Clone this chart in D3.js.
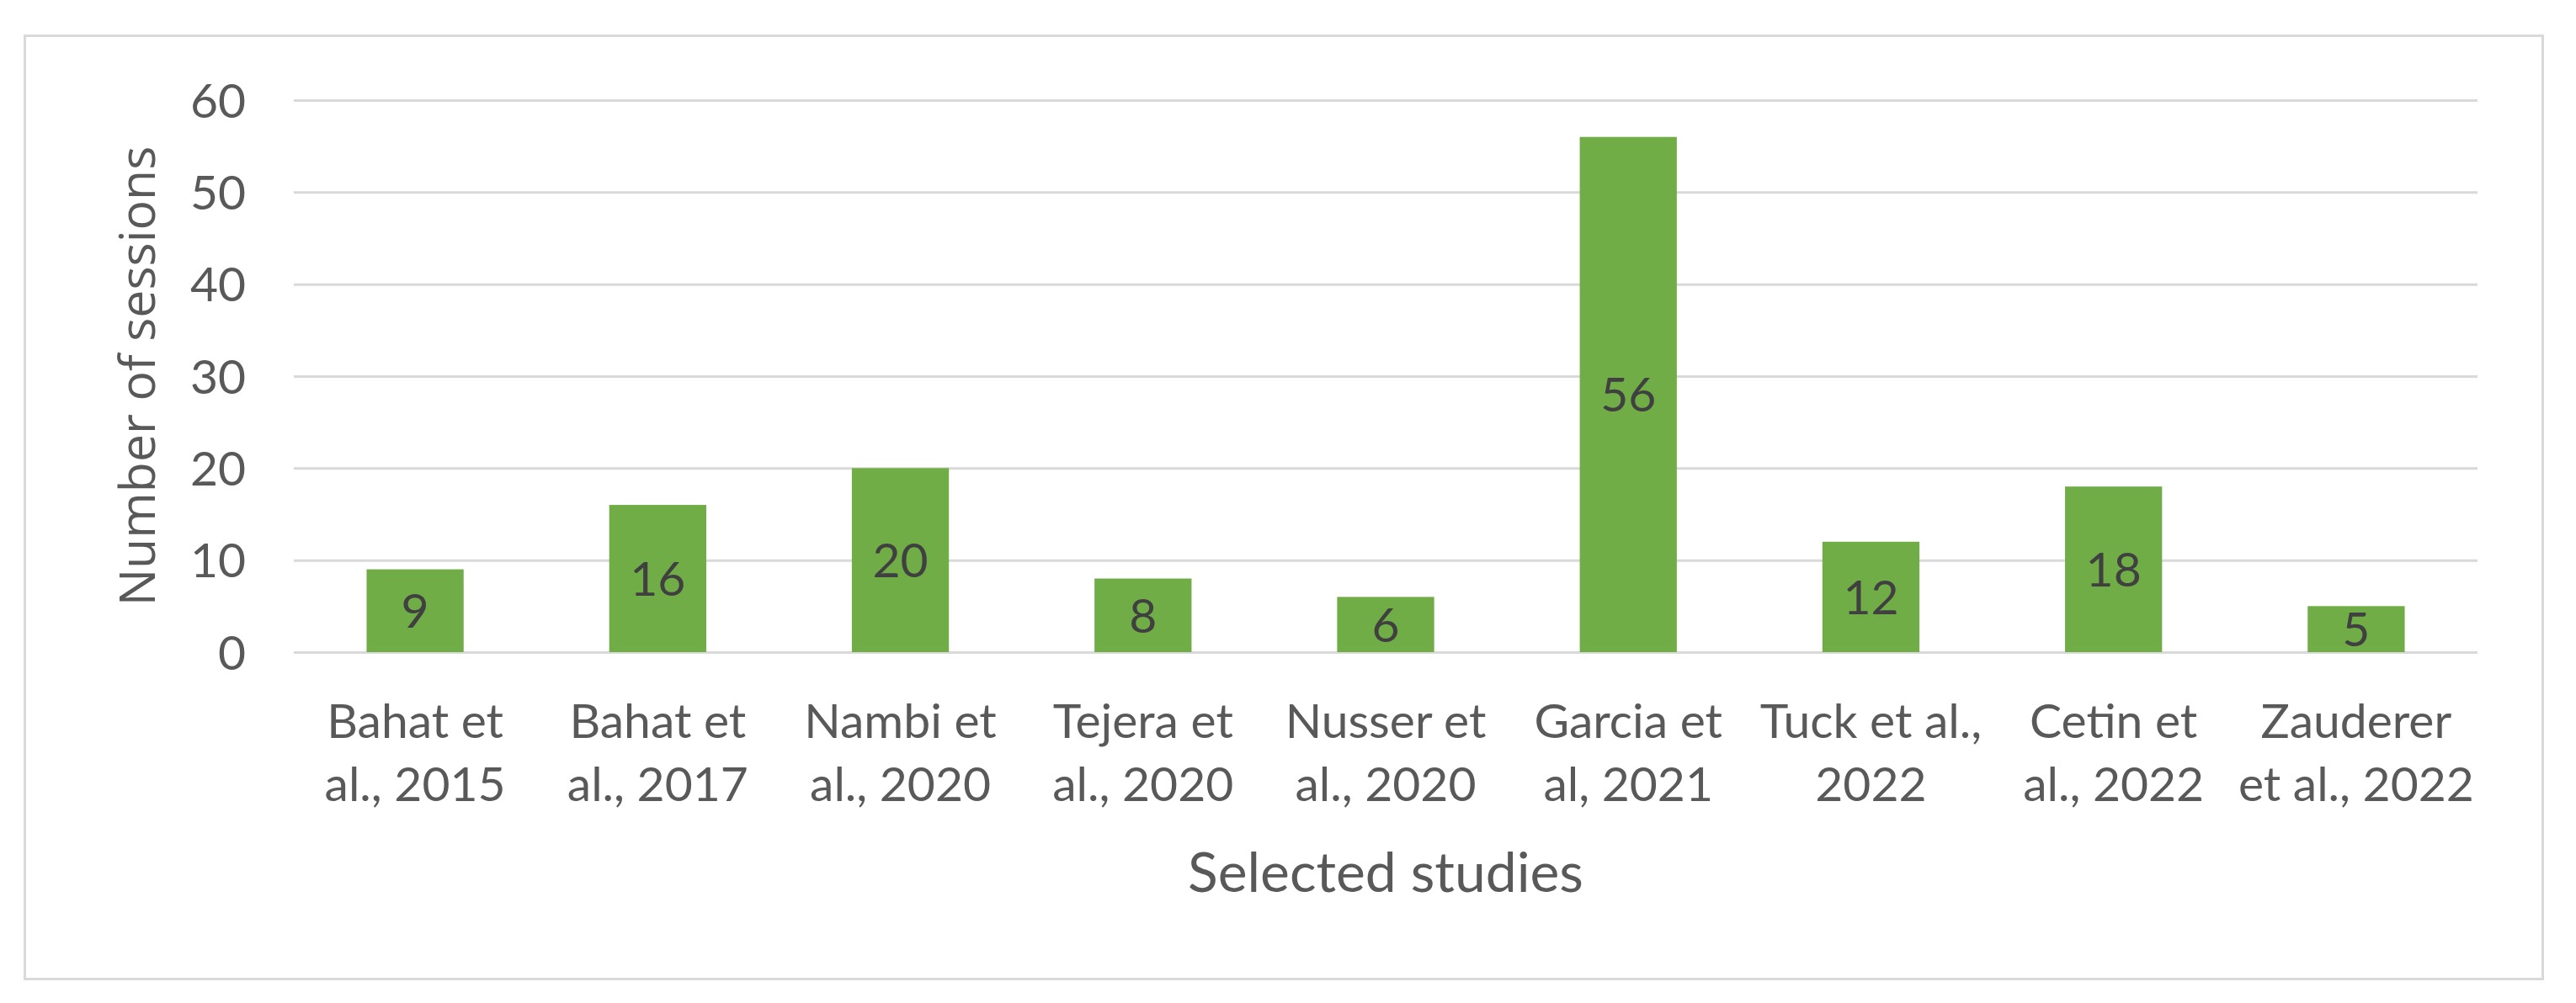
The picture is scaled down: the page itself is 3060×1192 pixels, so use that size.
<!DOCTYPE html>
<html>
<head>
<meta charset="utf-8">
<script src="https://cdn.jsdelivr.net/npm/d3@7"></script>
<style>
  html, body { margin: 0; padding: 0; background: #ffffff; }
  svg { display: block; }
</style>
</head>
<body>
<svg id="chart" width="3060" height="1192"></svg>
<script>
// ---- data ----
const categories = [
  ["Bahat et", "al., 2015"],
  ["Bahat et", "al., 2017"],
  ["Nambi et", "al., 2020"],
  ["Tejera et", "al., 2020"],
  ["Nusser et", "al., 2020"],
  ["Garcia et", "al, 2021"],
  ["Tuck et al.,", "2022"],
  ["Cetin et", "al., 2022"],
  ["Zauderer", "et al., 2022"]
];
const sessions = [9, 16, 20, 8, 6, 56, 12, 18, 5];
const yTicks = [0, 10, 20, 30, 40, 50, 60];
const xTitle = "Selected studies";
const yTitle = "Number of sessions";

// ---- layout ----
const W = 3060, H = 1192;
const plot = { left: 349, right: 2943, top: 119, bottom: 775 };
const fontMain = "Lato, 'Open Sans', sans-serif";

const svg = d3.select("#chart");
svg.append("rect").attr("width", W).attr("height", H).attr("fill", "#ffffff");

// chart frame
svg.append("rect")
  .attr("x", 29.5).attr("y", 42.5)
  .attr("width", 3020 - 29).attr("height", 1163 - 42)
  .attr("fill", "none").attr("stroke", "#d9d9d9").attr("stroke-width", 3);

const keys = categories.map((c, i) => i);
const x = d3.scaleBand().domain(keys).range([plot.left, plot.right])
  .paddingInner(0.6).paddingOuter(0.3);
const y = d3.scaleLinear().domain([0, 60]).range([plot.bottom, plot.top]);

// y axis with gridlines
const yAxis = d3.axisLeft(y).tickValues(yTicks)
  .tickSize(-(plot.right - plot.left)).tickPadding(57);
const gy = svg.append("g").attr("transform", `translate(${plot.left},0)`).call(yAxis);
gy.select(".domain").remove();
gy.selectAll(".tick line").attr("stroke", "#d9d9d9").attr("stroke-width", 3);
gy.selectAll(".tick text")
  .attr("fill", "#595959")
  .attr("font-family", fontMain)
  .attr("font-size", 57)
  .attr("dy", null)
  .attr("y", 20);

// bars
svg.append("g").selectAll("rect").data(sessions).join("rect")
  .attr("x", (d, i) => x(i))
  .attr("y", d => y(d))
  .attr("width", x.bandwidth())
  .attr("height", d => y(0) - y(d))
  .attr("fill", "#70ad47");

// data labels (centered in bars)
svg.append("g").selectAll("text").data(sessions).join("text")
  .attr("x", (d, i) => x(i) + x.bandwidth() / 2)
  .attr("y", d => (y(d) + y(0)) / 2 + 20.5)
  .attr("text-anchor", "middle")
  .attr("font-family", fontMain)
  .attr("font-size", 57)
  .attr("fill", "#404040")
  .text(d => d);

// category labels
const gx = svg.append("g");
categories.forEach((lines, i) => {
  const t = gx.append("text")
    .attr("text-anchor", "middle")
    .attr("font-family", fontMain)
    .attr("font-size", 57)
    .attr("fill", "#595959");
  lines.forEach((ln, j) => {
    t.append("tspan")
      .attr("x", x(i) + x.bandwidth() / 2)
      .attr("y", 877 + j * 75)
      .text(ln);
  });
});

// axis titles
svg.append("text")
  .attr("x", (plot.left + plot.right) / 2)
  .attr("y", 1060)
  .attr("text-anchor", "middle")
  .attr("font-family", fontMain)
  .attr("font-size", 66)
  .attr("fill", "#595959")
  .text(xTitle);

svg.append("text")
  .attr("transform", `translate(184,${(plot.top + plot.bottom) / 2}) rotate(-90)`)
  .attr("text-anchor", "middle")
  .attr("font-family", "'Open Sans', Lato, sans-serif")
  .attr("font-size", 59)
  .attr("fill", "#595959")
  .text(yTitle);
</script>
</body>
</html>
